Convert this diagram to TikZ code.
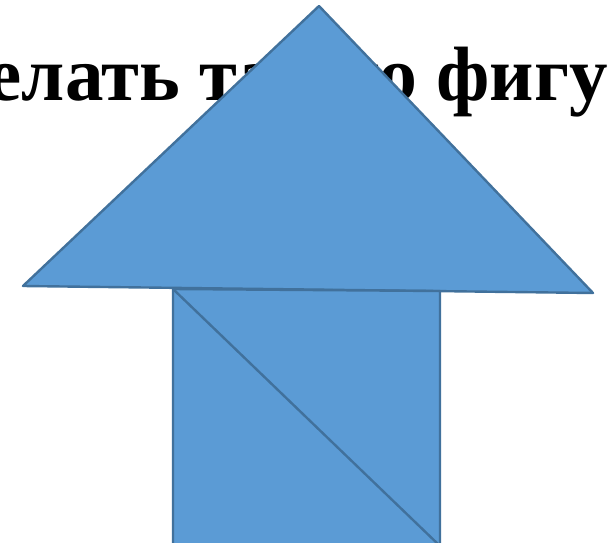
\documentclass[tikz,border=0pt]{standalone}
\usepackage{fontspec}
\setmainfont{Liberation Serif}
\usetikzlibrary{positioning}

\definecolor{piecefill}{HTML}{5B9BD5}
\definecolor{piecedraw}{HTML}{41719C}

\begin{document}
\begin{tikzpicture}[
    x=1pt, y=-1pt,
    piece/.style={fill=piecefill, draw=piecedraw, line width=2.4pt, line join=round},
    heading/.style={font=\fontsize{77}{84}\selectfont\bfseries, inner sep=0pt, anchor=base west}
]
    \useasboundingbox (0,0) rectangle (608,543);
    \clip (0,0) rectangle (608,543);

    \node[heading] (title) at (-107,100) {Сделать такую фигуру};

    % big triangle on top
    \coordinate (apex) at (319,6);
    \coordinate (tl) at (23,286);
    \coordinate (tr) at (593,293);
    \draw[piece] (apex) -- (tl) -- (tr) -- cycle;

    % square made of two small triangles
    \coordinate (sq-nw) at (173,289);
    \coordinate (sq-ne) at (440,291);
    \coordinate (sq-se) at (440,546);
    \coordinate (sq-sw) at (173,546);
    \draw[piece] (sq-nw) -- (sq-ne) -- (sq-se) -- (sq-sw) -- cycle;
    \draw[piece] (sq-nw) -- (sq-se);
\end{tikzpicture}
\end{document}
